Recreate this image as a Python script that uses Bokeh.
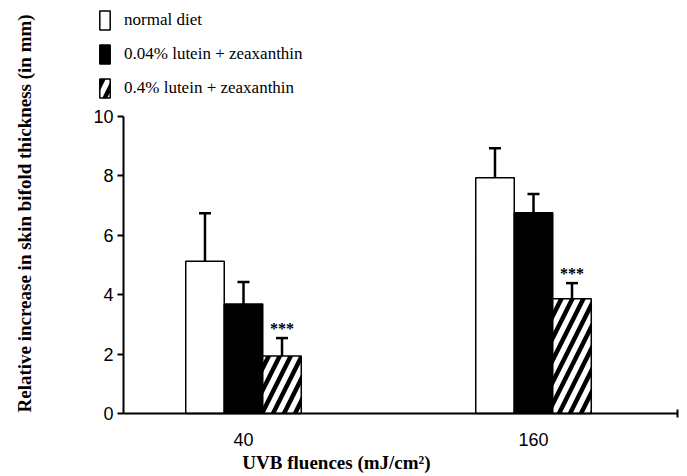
import numpy as np
from bokeh.plotting import figure
from bokeh.models import (ColumnDataSource, Range1d, FixedTicker, Whisker, TeeHead,
                          Legend, LegendItem, Label)
from bokeh.embed import file_html
from bokeh.resources import INLINE
from bokeh.core.properties import value

# ---- data ----
fluences = ["40", "160"]
diets = ["normal diet", "0.04% lutein + zeaxanthin", "0.4% lutein + zeaxanthin"]
normal = [5.13, 7.94]
normal_err_up = [1.61, 0.99]
normal_err_dn = [1.33, 1.09]
lutein_low = [3.69, 6.76]
lutein_low_err_up = [0.74, 0.63]
lutein_low_err_dn = [0.74, 0.63]
lutein_high = [1.94, 3.86]
lutein_high_err_up = [0.60, 0.53]
lutein_high_err_dn = [0.45, 0.68]
significance = ["***", "***"]
y_ticks = [0, 2, 4, 6, 8, 10]
x_title = "UVB fluences (mJ/cm²)"
y_title = "Relative increase in skin bifold thickness (in mm)"

SERIF = "Liberation Serif"
SANS = "Liberation Sans"

W, H = 687, 476
px_x = 290.0   # pixels per group
px_y = 29.7    # pixels per mm
group_pos = np.arange(len(fluences)) + 0.5
bar_w = 0.1328
x_start = 0.5 - 243 / px_x
x_end = x_start + W / px_x
y_start = -(H - 413) / px_y
y_end = 413 / px_y
x_axis_left = x_start + 123 / px_x
x_axis_right = x_start + 677 / px_x

p = figure(width=W, height=H, output_backend="svg", toolbar_location=None,
           x_range=Range1d(x_start, x_end), y_range=Range1d(y_start, y_end),
           min_border=0)
p.min_border_left = 0
p.min_border_right = 0
p.min_border_top = 0
p.min_border_bottom = 0
p.background_fill_color = "white"
p.border_fill_color = "white"
p.outline_line_color = None
p.xgrid.grid_line_color = None
p.ygrid.grid_line_color = None

series = [
    (normal, normal_err_up, normal_err_dn, dict(fill_color="white")),
    (lutein_low, lutein_low_err_up, lutein_low_err_dn, dict(fill_color="black")),
    (lutein_high, lutein_high_err_up, lutein_high_err_dn,
     dict(fill_color="white", hatch_pattern="/", hatch_color="black",
          hatch_weight=4.5, hatch_scale=22)),
]
offsets = [-bar_w, 0.0, bar_w]

items = []
for i, ((vals, eu, ed, style), off, name) in enumerate(zip(series, offsets, diets)):
    vals = np.array(vals)
    src = ColumnDataSource(dict(x=group_pos + off, top=vals,
                                upper=vals + np.array(eu), lower=vals - np.array(ed),
                                stars=significance))
    r = p.vbar(x="x", top="top", bottom=0, width=bar_w, source=src,
               line_color="black", line_width=1.5, **style)
    items.append(LegendItem(label=name, renderers=[r]))
    w = Whisker(base="x", upper="upper", lower="lower", source=src,
                line_color="black", line_width=2.5,
                upper_head=TeeHead(size=12, line_width=2.5, line_color="black"),
                lower_head=TeeHead(size=12, line_width=2.5, line_color="black"))
    p.add_layout(w)
    if i == 2:
        p.text(x="x", y="upper", text="stars", source=src,
               text_font=value(SERIF), text_font_size="16px", text_font_style="bold",
               text_align="center", text_baseline="alphabetic", y_offset=-10,
               text_color="black")

# y axis (fixed inside the full-canvas frame)
yax = p.yaxis[0]
yax.fixed_location = x_axis_left
yax.bounds = (0, 10)
yax.ticker = FixedTicker(ticks=y_ticks)
yax.axis_line_width = 2
yax.major_tick_line_width = 2
yax.major_tick_out = 6
yax.major_tick_in = 0
yax.minor_tick_line_color = None
yax.major_label_standoff = 4
yax.major_label_text_font = SANS
yax.major_label_text_font_size = "18px"
yax.major_label_text_color = "black"

# x axis
xax = p.xaxis[0]
xax.fixed_location = 0
xax.bounds = (x_axis_left, x_axis_right)
xax.ticker = FixedTicker(ticks=list(group_pos), minor_ticks=[x_axis_right])
xax.major_label_overrides = {float(g): f for g, f in zip(group_pos, fluences)}
xax.axis_line_width = 2
xax.major_tick_line_color = None
xax.major_tick_out = 0
xax.major_tick_in = 0
xax.minor_tick_line_width = 2
xax.minor_tick_in = 4
xax.minor_tick_out = 4
xax.major_label_standoff = 15
xax.major_label_text_font = SANS
xax.major_label_text_font_size = "18px"
xax.major_label_text_color = "black"

# axis titles
p.add_layout(Label(x=x_start + 336 / px_x, y=(413 - 462) / px_y, text=x_title,
                   text_font=SERIF, text_font_size="19px", text_font_style="bold",
                   text_align="center", text_baseline="middle", text_color="black"))
p.add_layout(Label(x=x_start + 24 / px_x, y=(413 - 412) / px_y, angle=np.pi / 2,
                   text=y_title, text_font=SERIF, text_font_size="19px",
                   text_font_style="bold", text_align="left", text_baseline="middle",
                   text_color="black"))

legend = Legend(items=items, location=(98, H - 100), orientation="vertical",
                glyph_width=13, glyph_height=24, spacing=10, padding=0, margin=0,
                label_standoff=13, label_text_font=SERIF, label_text_font_size="17px",
                label_text_color="black", background_fill_alpha=0,
                border_line_color=None)
p.add_layout(legend, "center")

open("out.html", "w").write(file_html(p, INLINE))
